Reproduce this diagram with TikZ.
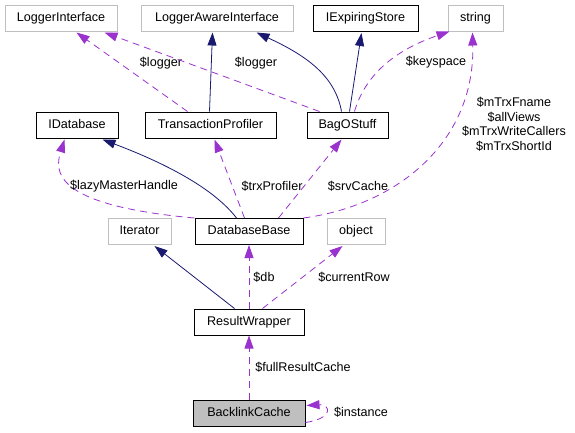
\documentclass[tikz,border=0pt]{standalone}
\usepackage{fontspec}
\setmainfont{Liberation Sans}
\usetikzlibrary{arrows.meta,calc}
\definecolor{navyc}{HTML}{191970}
\definecolor{orchidc}{HTML}{9A32CD}
\definecolor{lgrayc}{HTML}{BFBFBF}
\definecolor{fillg}{HTML}{BFBFBF}
\newcommand{\fsz}{\fontsize{12.6}{14.5}\selectfont}
\tikzset{
  box/.style={draw=black, line width=1pt, minimum height=26, inner sep=0, text height=9.5, text depth=3, font=\fsz, anchor=center},
  gbox/.style={box, draw=lgrayc},
  dep/.style={draw=orchidc, line width=0.8pt, dash pattern=on 7pt off 5pt, -{Triangle[length=13,width=9,fill=orchidc]}},
  inh/.style={draw=navyc, line width=0.8pt, -{Triangle[length=13,width=9,fill=navyc]}},
  lbl/.style={font=\fsz, inner sep=0, align=center}
}
\begin{document}
\begin{tikzpicture}[x=1pt,y=-1pt]
\useasboundingbox (0,0) rectangle (575,432);
% nodes
\node[gbox, minimum width=112] (li) at (61,18) {LoggerInterface};
\node[gbox, minimum width=152] (lai) at (217,18) {LoggerAwareInterface};
\node[box, minimum width=105] (ies) at (365.5,18.5) {IExpiringStore};
\node[gbox, minimum width=55] (str) at (475.5,18) {string};
\node[box, minimum width=82] (idb) at (77,125) {IDatabase};
\node[box, minimum width=131] (tp) at (210.5,125) {TransactionProfiler};
\node[box, minimum width=81] (bos) at (347.5,125) {BagOStuff};
\node[gbox, minimum width=63] (it) at (139.5,231.5) {Iterator};
\node[box, minimum width=108] (dbb) at (249,231.5) {DatabaseBase};
\node[gbox, minimum width=58] (obj) at (356,231.5) {object};
\node[box, minimum width=110] (rw) at (249,322) {ResultWrapper};
\node[box, minimum width=112, fill=fillg] (blc) at (249,413) {BacklinkCache};
% edges top
\draw[dep] ($(tp.north west)+(43,0)$) -- ($(li.south west)+(72,1)$);
\node[lbl] (l1) at (161,63) {\$logger};
\draw[dep] ($(bos.north west)+(13,0)$) -- ($(li.south west)+(100,1)$);
\node[lbl] (l2) at (256,63) {\$logger};
\draw[inh] ($(tp.north west)+(65,0)$) -- ($(lai.south west)+(72,1)$);
\draw[inh] ($(bos.north west)+(35,0)$) .. controls (335,75) and (305,55) .. ($(lai.south west)+(116,1)$);
\draw[inh] ($(bos.north west)+(43,0)$) -- ($(ies.south west)+(49,1)$);
\draw[dep] ($(bos.north west)+(48,0)$) .. controls (365,75) and (395,50) .. ($(str.south west)+(2,0)$);
\node[lbl] (l3) at (436,62) {\$keyspace};
% edges from DatabaseBase
\draw[dep] (dbb.north east) .. controls (400,205) and (475,140) .. ($(str.south west)+(25,1)$);
\node[lbl] (l4) at (514,124.5) {\$mTrxFname\\\$allViews\\\$mTrxWriteCallers\\\$mTrxShortId};
\draw[inh] ($(dbb.north west)+(42,0)$) .. controls (215,190) and (170,165) .. ($(idb.south west)+(67,1)$);
\draw[dep] (dbb.north west) .. controls (50,205) and (55,170) .. ($(idb.south west)+(29,1)$);
\node[lbl] (l5) at (124,186) {\$lazyMasterHandle};
\draw[dep] ($(dbb.north west)+(50,0)$) -- ($(tp.south west)+(70,1)$);
\node[lbl] (l6) at (272,186) {\$trxProfiler};
\draw[dep] ($(dbb.north west)+(84,0)$) -- ($(bos.south west)+(35,1)$);
\node[lbl] (l7) at (358,186) {\$srvCache};
% ResultWrapper edges
\draw[dep] (rw.north) -- (dbb.south);
\node[lbl] (l8) at (264,277) {\$db};
\draw[inh] ($(rw.north west)+(41,0)$) -- ($(it.south west)+(47,1)$);
\draw[dep] ($(rw.north west)+(69,0)$) -- ($(obj.south west)+(16,1)$);
\node[lbl] (l9) at (354,277) {\$currentRow};
% BacklinkCache
\draw[dep] (blc.north) -- (rw.south);
\node[lbl] (l10) at (303,367) {\$fullResultCache};
\draw[dep] ($(blc.south east)+(0,-4)$) .. controls (335,418) and (330,404) .. ($(blc.north east)+(1,6)$);
\node[lbl] (l11) at (361,412) {\$instance};
\end{tikzpicture}
\end{document}
